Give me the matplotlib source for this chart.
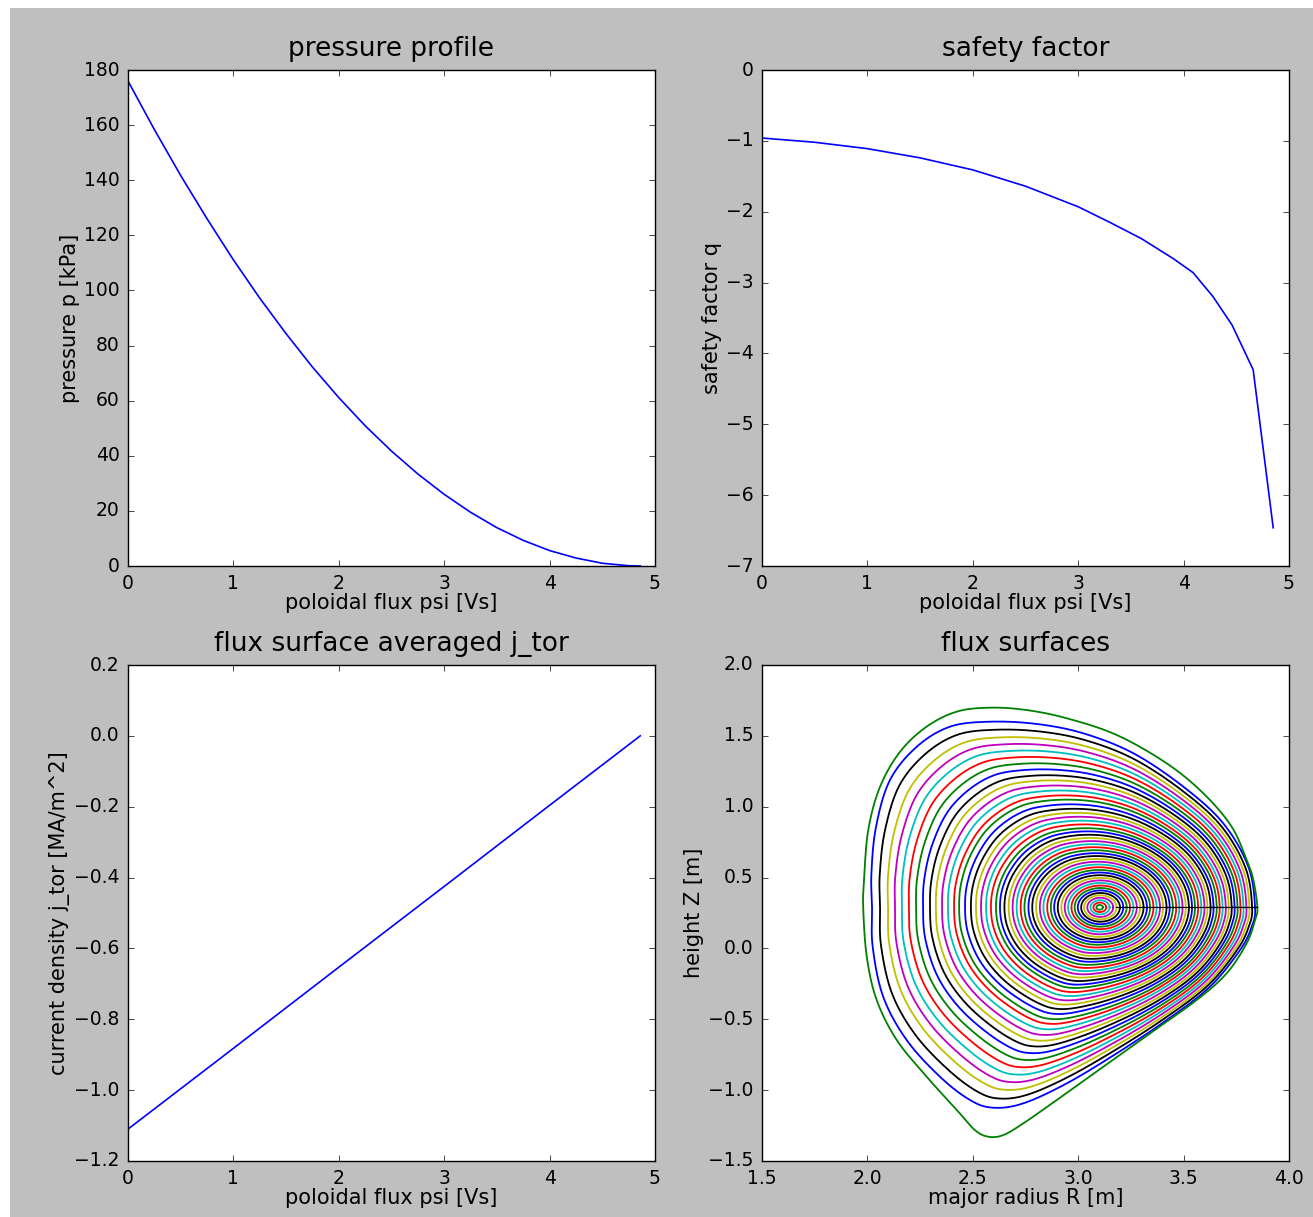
import numpy as np
import matplotlib
matplotlib.use('Agg')
import matplotlib.pyplot as plt
from matplotlib.patches import Rectangle

plt.style.use('classic')

# pressure profile
psi_p = [0.0, 0.25, 0.5, 0.75, 1.0, 1.25, 1.5, 1.75, 2.0, 2.25, 2.5,
         2.75, 3.0, 3.25, 3.5, 3.75, 4.0, 4.25, 4.5, 4.75, 4.86]
pressure_kpa = [176.0, 158.4, 141.7, 126.0, 111.1, 97.2, 84.3, 72.2, 61.1, 50.9, 41.7,
                33.4, 26.0, 19.5, 13.9, 9.3, 5.6, 2.9, 1.0, 0.1, 0.0]

# safety factor
psi_q = [0.0, 0.5, 1.0, 1.5, 2.0, 2.5, 3.0, 3.3, 3.6, 3.9, 4.09, 4.28, 4.46, 4.66, 4.85]
q_vals = [-0.96, -1.02, -1.11, -1.24, -1.41, -1.64, -1.93, -2.15, -2.38, -2.66,
          -2.86, -3.2, -3.6, -4.23, -6.46]

# flux surface averaged toroidal current density
psi_j = [0.0, 1.0, 2.0, 3.0, 4.0, 4.86]
j_tor = [-1.11, -0.882, -0.653, -0.425, -0.196, 0.0]

# flux surfaces: magnetic axis height, midplane crossings (inner -> outer)
z_axis = 0.29
r_left = [3.100, 3.086, 3.072, 3.058, 3.043, 3.028, 3.014, 2.998, 2.983, 2.968,
          2.952, 2.936, 2.920, 2.903, 2.886, 2.870, 2.853, 2.835, 2.818, 2.800,
          2.782, 2.764, 2.745, 2.727, 2.708, 2.689, 2.670, 2.650, 2.629, 2.610,
          2.586, 2.563, 2.539, 2.515, 2.491, 2.463, 2.435, 2.411, 2.382, 2.354,
          2.325, 2.297, 2.264, 2.231, 2.197, 2.164, 2.131, 2.098, 2.060, 2.022, 1.980]
r_right = [3.100, 3.117, 3.133, 3.149, 3.166, 3.182, 3.198, 3.214, 3.230, 3.246,
           3.262, 3.278, 3.294, 3.310, 3.326, 3.341, 3.357, 3.372, 3.388, 3.403,
           3.419, 3.434, 3.449, 3.465, 3.480, 3.495, 3.510, 3.525, 3.540, 3.554,
           3.569, 3.584, 3.599, 3.613, 3.628, 3.642, 3.657, 3.671, 3.685, 3.700,
           3.714, 3.728, 3.742, 3.756, 3.770, 3.784, 3.798, 3.812, 3.825, 3.839, 3.853]
# elongation of the innermost surfaces
kappa_core = 1.1

# outermost surface (green)
bnd_R = [3.850, 3.831, 3.799, 3.728, 3.594, 3.420, 3.183, 2.946, 2.756, 2.582,
         2.424, 2.281, 2.155, 2.060, 2.004, 1.984, 1.980, 1.997, 2.044, 2.139,
         2.281, 2.424, 2.510, 2.574, 2.645, 2.740, 2.898, 3.119, 3.341, 3.562,
         3.704, 3.799, 3.839]
bnd_Z = [0.290, 0.483, 0.624, 0.859, 1.094, 1.306, 1.506, 1.624, 1.682, 1.699,
         1.671, 1.565, 1.388, 1.141, 0.836, 0.483, 0.290, -0.059, -0.364, -0.646,
         -0.905, -1.140, -1.282, -1.329, -1.317, -1.234, -1.070, -0.835, -0.599, -0.364,
         -0.176, 0.036, 0.200]

# second surface (blue), sets the shape of the closed surfaces inside
inner_R = [3.839, 3.807, 3.688, 3.499, 3.262, 3.024, 2.803, 2.582, 2.392, 2.234,
           2.107, 2.041, 2.019, 2.022, 2.025, 2.075, 2.186, 2.344, 2.487, 2.597,
           2.740, 2.946, 3.183, 3.420, 3.625, 3.768, 3.823]
inner_Z = [0.290, 0.577, 0.883, 1.141, 1.377, 1.518, 1.584, 1.600, 1.565, 1.423,
           1.188, 0.859, 0.530, 0.290, 0.012, -0.341, -0.646, -0.905, -1.070, -1.124,
           -1.093, -0.952, -0.740, -0.505, -0.270, -0.011, 0.153]

# dark cut along the outboard midplane
cut_R = [3.18, 3.85]
cut_Z = [0.29, 0.29]


def closed_spline(x, y, nsub=40):
    '''periodic Catmull-Rom curve through the given points'''
    P = np.column_stack([x, y])
    n = len(P)
    t = np.linspace(0, 1, nsub, endpoint=False)[:, None]
    out = []
    for i in range(n):
        p0, p1, p2, p3 = P[i - 1], P[i], P[(i + 1) % n], P[(i + 2) % n]
        out.append(0.5 * (2 * p1 + (-p0 + p2) * t + (2 * p0 - 5 * p1 + 4 * p2 - p3) * t ** 2
                          + (-p0 + 3 * p1 - 3 * p2 + p3) * t ** 3))
    out = np.vstack(out)
    return out[:, 0], out[:, 1]


def shape_radius(xs, ys, k, theta):
    '''polar radius of a traced surface, normalised by surface k's half width'''
    c_k = 0.5 * (r_left[k] + r_right[k])
    a_k = 0.5 * (r_right[k] - r_left[k])
    sx, sy = closed_spline(xs, ys)
    u = (sx - c_k) / a_k
    v = (sy - z_axis) / a_k
    phi = np.arctan2(v, u)
    rad = np.hypot(u, v)
    order = np.argsort(phi)
    return np.interp(theta, phi[order], rad[order], period=2 * np.pi), a_k


def surface(i, theta):
    '''outermost surface as traced, the others blend a core ellipse into the blue shape'''
    last = len(r_left) - 1
    c = 0.5 * (r_left[i] + r_right[i])
    a = 0.5 * (r_right[i] - r_left[i])
    if i == last:
        r, _ = shape_radius(bnd_R, bnd_Z, last, theta)
    else:
        r_s, a_s = shape_radius(inner_R, inner_Z, last - 1, theta)
        r_e = kappa_core / np.sqrt(kappa_core ** 2 * np.cos(theta) ** 2 + np.sin(theta) ** 2)
        w = min(a / a_s, 1.0) ** 2
        r = (1 - w) * r_e + w * r_s
    return c + a * r * np.cos(theta), z_axis + a * r * np.sin(theta)


W, H = 1313, 1217
fig = plt.figure(figsize=(W / 100.0, H / 100.0), dpi=100, facecolor='white')
fig.add_artist(Rectangle((10.0 / W, 0), 1, 1 - 8.0 / H, transform=fig.transFigure,
                         facecolor='0.75', edgecolor='none', zorder=-10))

axw, axh = 527.0 / W, 496.0 / H
lefts = [128.0 / W, 762.0 / W]
bottoms = [(H - 566.0) / H, (H - 1161.0) / H]

ax1 = fig.add_axes([lefts[0], bottoms[0], axw, axh])
ax2 = fig.add_axes([lefts[1], bottoms[0], axw, axh])
ax3 = fig.add_axes([lefts[0], bottoms[1], axw, axh])
ax4 = fig.add_axes([lefts[1], bottoms[1], axw, axh])

tfs, lfs, kfs = 19, 15, 13.5

ax1.plot(psi_p, pressure_kpa, 'b-', lw=1.2)
ax1.set_xlim(0, 5)
ax1.set_ylim(0, 180)
ax1.set_yticks(np.arange(0, 181, 20))
ax1.set_title('pressure profile', fontsize=tfs, va='bottom', pad=6)
ax1.set_xlabel('poloidal flux psi [Vs]', fontsize=lfs, labelpad=0)
ax1.set_ylabel('pressure p [kPa]', fontsize=lfs, labelpad=3)

ax2.plot(psi_q, q_vals, 'b-', lw=1.2)
ax2.set_xlim(0, 5)
ax2.set_ylim(-7, 0)
ax2.set_title('safety factor', fontsize=tfs, va='bottom', pad=6)
ax2.set_xlabel('poloidal flux psi [Vs]', fontsize=lfs, labelpad=0)
ax2.set_ylabel('safety factor q', fontsize=lfs, labelpad=3)

ax3.plot(psi_j, j_tor, 'b-', lw=1.2)
ax3.set_xlim(0, 5)
ax3.set_ylim(-1.2, 0.2)
ax3.set_yticks(np.arange(-1.2, 0.21, 0.2))
ax3.set_title('flux surface averaged j_tor', fontsize=tfs, va='bottom', pad=6)
ax3.set_xlabel('poloidal flux psi [Vs]', fontsize=lfs, labelpad=0)
ax3.set_ylabel('current density j_tor [MA/m^2]', fontsize=lfs, labelpad=3)

theta = np.linspace(0, 2 * np.pi, 600)
for i in range(len(r_left)):
    R, Z = surface(i, theta)
    ax4.plot(R, Z, lw=1.3)
ax4.plot(cut_R, cut_Z, color='k', lw=0.8)
ax4.set_xlim(1.5, 4.0)
ax4.set_ylim(-1.5, 2.0)
ax4.set_title('flux surfaces', fontsize=tfs, va='bottom', pad=6)
ax4.set_xlabel('major radius R [m]', fontsize=lfs, labelpad=0)
ax4.set_ylabel('height Z [m]', fontsize=lfs, labelpad=3)

for ax in (ax1, ax2, ax3, ax4):
    ax.tick_params(labelsize=kfs, pad=6)

fig.savefig('out.png', dpi=100, facecolor=fig.get_facecolor())
